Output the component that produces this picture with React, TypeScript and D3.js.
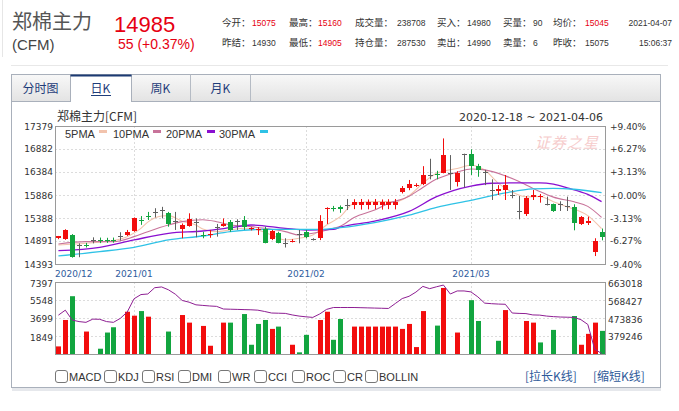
import React from 'react';
import * as d3 from 'd3';

const W = 679;
const H = 411;

// ---------- data ----------
const monthLabels = ['2020/12', '2021/01', '2021/02', '2021/03'];
const monthIndex = [0, 11, 36, 60];

const opens = [14950, 14930, 15020, 14800, 14810, 14910, 14920, 14920, 14915, 14995,
  15020, 15110, 15350, 15440, 15520, 15560, 15490, 15320, 15160, 15220,
  15300, 15025, 15020, 15200, 15220, 15300, 15330, 15340, 15140, 15140,
  15160, 14930, 15070, 14855, 14875, 15050, 15090, 14930, 14950, 15580,
  15610, 15630, 15670, 15675, 15670, 15680, 15672, 15678, 15670, 15676,
  15950, 16045, 16095, 16120, 16320, 16330, 16370, 16355, 16175, 16770,
  16770, 16520, 16390, 15994, 15970, 15994, 15886, 15540, 15468, 15845,
  15835, 15685, 15685, 15685, 15648, 15633, 15258, 15290, 14660, 15075];
const highs = [15000, 15145, 15040, 14840, 14850, 14970, 14965, 14960, 14965, 15080,
  15130, 15400, 15430, 15520, 15600, 15630, 15520, 15520, 15270, 15490,
  15380, 15090, 15130, 15260, 15380, 15345, 15360, 15430, 15190, 15190,
  15200, 15130, 15090, 14950, 14930, 15130, 15130, 14950, 15450, 15620,
  15650, 15660, 15800, 15795, 15800, 15790, 15800, 15790, 15795, 15800,
  16080, 16211, 16140, 16510, 16670, 16410, 17110, 16750, 16400, 16780,
  16875, 16560, 16430, 16226, 16100, 16319, 15994, 15864, 15864, 15994,
  15908, 15850, 15700, 15750, 15850, 15685, 15430, 15417, 14950, 15160];
const lows = [14930, 14915, 14530, 14540, 14750, 14840, 14845, 14850, 14855, 14900,
  15000, 15090, 15240, 15345, 15400, 15380, 15200, 15130, 14950, 15200,
  14970, 14950, 14960, 14985, 15200, 15090, 15130, 15130, 15120, 15020,
  14840, 14910, 14840, 14750, 14860, 14840, 14950, 14900, 14910, 15260,
  15530, 15500, 15560, 15580, 15570, 15575, 15580, 15570, 15580, 15575,
  15920, 15990, 16060, 16100, 16225, 16225, 16355, 15995, 16070, 16050,
  16320, 16280, 16100, 15778, 15886, 15778, 15815, 15360, 15432, 15778,
  15720, 15660, 15520, 15540, 15540, 15122, 15237, 15237, 14565, 14905];
const closes = [14990, 15130, 14550, 14800, 14790, 14910, 14905, 14905, 14900, 14995,
  15090, 15380, 15330, 15420, 15520, 15560, 15260, 15320, 15240, 15360,
  15300, 15010, 15045, 15200, 15250, 15130, 15330, 15200, 15165, 15160,
  14855, 15110, 14855, 14855, 14900, 15050, 14970, 14930, 15330, 15600,
  15590, 15580, 15670, 15740, 15742, 15738, 15745, 15740, 15742, 15740,
  16030, 16118, 16110, 16320, 16320, 16310, 16750, 16355, 16370, 16770,
  16520, 16430, 16390, 15994, 16010, 16100, 15886, 15540, 15817, 15880,
  15865, 15685, 15547, 15685, 15648, 15274, 15417, 15320, 14880, 14985];

const volumes = [780, 3495, 5938, 0, 2307, 0, 543, 2205, 2748, 0,
  4343, 3936, 4411, 3834, 0, 0, 2307, 0, 4004, 3223,
  0, 2884, 848, 0, 3223, 3223, 0, 4105, 950, 3088,
  3495, 2579, 2816, 0, 950, 170, 1968, 0, 3495, 4343,
  1459, 3597, 0, 2816, 2816, 2816, 2816, 2816, 2816, 2816,
  2579, 3088, 712, 4411, 0, 2918, 6786, 0, 2205, 0,
  5531, 3393, 0, 0, 1357, 4513, 0, 0, 3393, 3223,
  1188, 0, 2477, 0, 0, 3902, 950, 2070, 3223, 2375];
// 1 = rising day (red bar), 0 = falling day (green bar)
const volumeUp = [1, 1, 0, 0, 1, 0, 0, 0, 0, 0,
  1, 1, 0, 1, 0, 0, 0, 0, 1, 1,
  0, 1, 1, 0, 1, 0, 0, 0, 0, 0,
  0, 1, 0, 0, 1, 0, 0, 0, 1, 1,
  0, 0, 0, 1, 1, 1, 1, 1, 1, 1,
  1, 1, 1, 1, 0, 0, 1, 0, 1, 0,
  0, 0, 0, 0, 0, 1, 0, 0, 1, 1,
  0, 0, 0, 0, 0, 0, 1, 1, 1, 0];
const openInterest = [489000, 515000, 463000, 455000, 451000, 468000, 467000, 455000, 451000, 472000,
  505000, 575000, 597000, 600000, 633000, 637000, 622000, 599000, 566000, 557000,
  543000, 540000, 537000, 535000, 521000, 520000, 519000, 518000, 517000, 515000,
  508000, 500000, 499000, 498000, 490000, 484000, 480000, 477000, 495000, 519000,
  529000, 529000, 529000, 529000, 528000, 527000, 526000, 525000, 524000, 550000,
  576000, 588000, 610000, 640000, 628000, 638000, 647000, 600000, 616000, 616000,
  611000, 585000, 552000, 549000, 547000, 546000, 500000, 498000, 497000, 490000,
  489000, 484000, 481000, 479000, 478000, 477000, 465000, 440000, 310000, 287530];

// moving averages read at knots: [candle index, value]
const ma5 = [[0, 14804], [4, 14841], [8, 14900], [10, 14985], [12, 15165], [13, 15300], [15, 15430], [16, 15440], [18, 15320], [20, 15237], [21, 15150], [23, 15093], [25, 15129], [27, 15165], [29, 15129], [31, 15021], [33, 14913], [35, 14949], [37, 15021], [39, 15237], [41, 15417], [43, 15706], [46, 15742], [49, 15742], [51, 15870], [53, 16140], [55, 16355], [58, 16460], [60, 16530], [62, 16427], [64, 16138], [66, 15950], [68, 15845], [70, 15855], [72, 15742], [74, 15630], [77, 15440], [79, 15160]];
const ma10 = [[0, 14826], [4, 14877], [8, 14877], [11, 14985], [13, 15093], [16, 15237], [18, 15309], [21, 15350], [23, 15309], [25, 15237], [28, 15201], [30, 15165], [33, 15093], [35, 15021], [37, 15057], [40, 15165], [41, 15210], [43, 15400], [46, 15562], [48, 15700], [51, 15860], [53, 16050], [55, 16230], [58, 16380], [60, 16450], [62, 16430], [65, 16300], [67, 16180], [70, 15960], [72, 15840], [75, 15740], [77, 15640], [79, 15400]];
const ma20 = [[0, 14682], [6, 14754], [11, 14913], [16, 15057], [21, 15107], [25, 15179], [28, 15237], [33, 15165], [36, 15129], [40, 15143], [41, 15190], [46, 15320], [51, 15530], [55, 15850], [60, 16080], [63, 16140], [66, 16150], [70, 16150], [72, 16120], [74, 16040], [77, 15900], [79, 15742]];
const ma30 = [[0, 14567], [6, 14660], [11, 14754], [16, 14913], [21, 14999], [25, 15093], [30, 15143], [35, 15143], [38, 15143], [41, 15180], [46, 15290], [51, 15450], [55, 15620], [60, 15770], [65, 15930], [69, 16020], [72, 16030], [75, 16010], [79, 15936]];

const maNames = ['5PMA', '10PMA', '20PMA', '30PMA'];

const priceTicks = [17379, 16882, 16384, 15886, 15388, 14891, 14393];
const pctTicks = ['+9.40%', '+6.27%', '+3.13%', '+0.00%', '-3.13%', '-6.27%', '-9.40%'];
const volTicks = [7397, 5548, 3699, 1849];
const oiTicks = [663018, 568427, 473836, 379246];
const indicatorNames = ['MACD', 'KDJ', 'RSI', 'DMI', 'WR', 'CCI', 'ROC', 'CR', 'BOLLIN'];

// ---------- styling ----------
const RED = '#f20d0d';
const GREEN = '#12a53f';
const GRAY = '#606060';
const HRED = '#e60012';
const maColors = ['#f2c3ad', '#c8739a', '#8a0fd0', '#2fc2e6'];
const NUM = 'DejaVu Sans, Verdana, sans-serif';
const CJK = '"Noto Sans CJK SC", sans-serif';
const ARIAL = '"Liberation Sans", Arial, sans-serif';

const PL = 55, PR = 605, PT = 126, PB = 264;
const VT = 282, VB = 354;

export default function App() {
  const n = opens.length;
  const x = d3.scaleBand<number>().domain(d3.range(n)).range([PL, PR]);
  const cx = (i: number) => Math.round((x(i) as number) + x.bandwidth() / 2);
  const xi = d3.scaleLinear().domain([0, n - 1]).range([(x(0) as number) + x.bandwidth() / 2, (x(n - 1) as number) + x.bandwidth() / 2]);
  const y = d3.scaleLinear().domain([14393, 17379]).range([PB, PT]);
  const yv = d3.scaleLinear().domain([0, 7397]).range([VB, VT]);
  const yoi = d3.scaleLinear().domain([284655, 663018]).range([VB, VT]);

  const maLine = d3.line<number[]>().x(d => xi(d[0])).y(d => y(d[1])).curve(d3.curveMonotoneX);
  const oiLine = d3.line<number>().x((d, i) => xi(i)).y(d => yoi(d));

  const mas = [ma5, ma10, ma20, ma30];

  const cbX = [55, 104, 142, 178, 218, 254, 292, 333, 365];

  return (
    <svg width={W} height={H} style={{ position: 'absolute', left: 0, top: 0, background: '#fff' }}>
      <defs>
        <linearGradient id="tabbg" x1="0" y1="0" x2="0" y2="1">
          <stop offset="0" stopColor="#f8f8f8" />
          <stop offset="1" stopColor="#e3e3e3" />
        </linearGradient>
        <clipPath id="pclip"><rect x={PL} y={PT} width={PR - PL} height={PB - PT} /></clipPath>
        <clipPath id="vclip"><rect x={PL} y={VT} width={PR - PL} height={VB - VT} /></clipPath>
      </defs>

      {/* header */}
      <line x1={2.5} y1={0} x2={2.5} y2={57} stroke="#e6e6e6" />
      <text x={12} y={29} fontFamily={CJK} fontSize={20} fill="#555">郑棉主力</text>
      <text x={12} y={50} fontFamily={ARIAL} fontSize={15} fill="#444">(CFM)</text>
      <text x={114} y={32} fontFamily={ARIAL} fontSize={22} fill={HRED}>14985</text>
      <text x={118} y={49} fontFamily={ARIAL} fontSize={14} fill={HRED}>55 (+0.37%)</text>
      <g fontFamily={CJK} fontSize={9.5} fill="#333">
        <text x={222} y={26}>今开：</text>
        <text x={289} y={26}>最高：</text>
        <text x={355} y={26}>成交量：</text>
        <text x={437} y={26}>买入：</text>
        <text x={503} y={26}>买量：</text>
        <text x={553} y={26}>均价：</text>
        <text x={222} y={46}>昨结：</text>
        <text x={289} y={46}>最低：</text>
        <text x={355} y={46}>持仓量：</text>
        <text x={437} y={46}>卖出：</text>
        <text x={503} y={46}>卖量：</text>
        <text x={553} y={46}>昨收：</text>
      </g>
      <g fontFamily={ARIAL} fontSize={8.5} fill="#333">
        <text x={252} y={26} fill={HRED}>15075</text>
        <text x={318} y={26} fill={HRED}>15160</text>
        <text x={397} y={26}>238708</text>
        <text x={467} y={26}>14980</text>
        <text x={533} y={26}>90</text>
        <text x={585} y={26} fill={HRED}>15045</text>
        <text x={672} y={26} textAnchor="end">2021-04-07</text>
        <text x={252} y={46}>14930</text>
        <text x={318} y={46} fill={HRED}>14905</text>
        <text x={397} y={46}>287530</text>
        <text x={467} y={46}>14990</text>
        <text x={533} y={46}>6</text>
        <text x={585} y={46}>15075</text>
        <text x={672} y={46} textAnchor="end">15:06:37</text>
      </g>
      <line x1={11} y1={65.5} x2={668} y2={65.5} stroke="#e8e8e8" />

      {/* tabs */}
      <rect x={11.5} y={74.5} width={649} height={27} fill="url(#tabbg)" stroke="#a9b0bb" />
      <rect x={70.5} y={74.5} width={61} height={27} fill="#fff" stroke="#a9b0bb" />
      <line x1={70.5} y1={75.5} x2={131.5} y2={75.5} stroke="#1c3a73" strokeWidth={2} />
      {[190.5, 250.5].map(v => <line key={v} x1={v} y1={74.5} x2={v} y2={101.5} stroke="#b5bbc4" />)}
      <g fontFamily={CJK} fontSize={12} fill="#1f3d7a" textAnchor="middle">
        <text x={40.5} y={93}>分时图</text>
        <text x={100.5} y={93}>日K</text>
        <text x={160.5} y={93}>周K</text>
        <text x={220.5} y={93}>月K</text>
      </g>
      <line x1={91} y1={95.5} x2={111} y2={95.5} stroke="#1f3d7a" />

      {/* panel */}
      <rect x={11.5} y={101.5} width={649} height={286} fill="#fff" stroke="#a9b0bb" />
      <line x1={71} y1={101.5} x2={131} y2={101.5} stroke="#fff" />
      <rect x={12} y={388} width={649} height={3} fill="#e6e8ec" />

      <text x={57} y={121} fontFamily={CJK} fontSize={12} fill="#333">郑棉主力[CFM]</text>
      <text x={603} y={121} fontFamily={NUM} fontSize={11} fill="#333" textAnchor="end">2020-12-18 ~ 2021-04-06</text>

      {/* price grid */}
      <g stroke="#dcdcdc" strokeDasharray="2,2">
        {priceTicks.slice(1, -1).map(t => <line key={t} x1={PL} x2={PR} y1={Math.round(y(t)) + 0.5} y2={Math.round(y(t)) + 0.5} />)}
        {monthIndex.slice(1).map(i => <line key={'v' + i} x1={cx(i) + 0.5} x2={cx(i) + 0.5} y1={PT} y2={PB} />)}
        {volTicks.slice(1).map(t => <line key={'g' + t} x1={PL} x2={PR} y1={Math.round(yv(t)) + 0.5} y2={Math.round(yv(t)) + 0.5} />)}
        {monthIndex.slice(1).map(i => <line key={'vv' + i} x1={cx(i) + 0.5} x2={cx(i) + 0.5} y1={VT} y2={VB} />)}
      </g>

      {/* watermark */}
      <text x={535} y={148} fontFamily={CJK} fontSize={15} fontStyle="italic" fill="#f6cccc" letterSpacing={1}>证券之星</text>

      {/* axis labels */}
      <g fontFamily={NUM} fontSize={9} fill="#333">
        {priceTicks.map(t => <text key={t} x={53} y={y(t) + 3.5} textAnchor="end">{t}</text>)}
        {pctTicks.map((t, k) => <text key={t} x={610} y={y(priceTicks[k]) + 3.5}>{t}</text>)}
        {volTicks.map(t => <text key={t} x={53} y={yv(t) + 4.5} textAnchor="end">{t}</text>)}
        {oiTicks.map(t => <text key={t} x={608} y={yoi(t) + 4.5}>{t}</text>)}
      </g>
      <g fontFamily={NUM} fontSize={9} fill="#2f5d9e">
        {monthLabels.map((m, k) => (
          <text key={m} x={k === 0 ? PL : cx(monthIndex[k])} y={277} textAnchor={k === 0 ? 'start' : 'middle'}>{m}</text>
        ))}
      </g>

      {/* MA lines */}
      <g clipPath="url(#pclip)" fill="none">
        {mas.map((m, k) => <path key={k} d={maLine(m) as string} stroke={maColors[k]} strokeWidth={k >= 2 ? 1.3 : 1.1} />)}
      </g>

      {/* candles */}
      <g>
        {opens.map((o, i) => {
          const c = closes[i];
          const col = c > o ? RED : c < o ? GREEN : GRAY;
          const xc = cx(i);
          const top = Math.round(y(Math.max(o, c)));
          const bot = Math.round(y(Math.min(o, c)));
          return (
            <g key={i}>
              <line x1={xc + 0.5} x2={xc + 0.5} y1={y(highs[i])} y2={y(lows[i])} stroke={col} />
              {c === o
                ? <line x1={xc - 2} x2={xc + 3} y1={top + 0.5} y2={top + 0.5} stroke={col} />
                : <rect x={xc - 2} y={top} width={5} height={Math.max(1, bot - top)} fill={col} />}
            </g>
          );
        })}
      </g>

      {/* legend */}
      <g fontFamily={ARIAL} fontSize={11} fill="#333">
        {maNames.map((nm, k) => {
          const lx = [65, 113, 166, 219][k];
          const sx = [99, 153, 207, 260][k];
          return (
            <g key={nm}>
              <text x={lx} y={138}>{nm}</text>
              <rect x={sx} y={130} width={8} height={3} fill={maColors[k]} />
            </g>
          );
        })}
      </g>

      {/* volume */}
      <g>
        {volumes.map((v, i) => v > 0 ? (
          <rect key={i} x={cx(i) - 2} y={yv(v)} width={5} height={VB - yv(v)} fill={volumeUp[i] ? RED : GREEN} />
        ) : null)}
      </g>
      <g clipPath="url(#vclip)">
        <path d={oiLine(openInterest) as string} fill="none" stroke="#8e1f93" strokeWidth={1} />
      </g>

      {/* frames */}
      <rect x={PL + 0.5} y={PT + 0.5} width={PR - PL} height={PB - PT} fill="none" stroke="#9a9a9a" />
      <rect x={PL + 0.5} y={VT + 0.5} width={PR - PL} height={VB - VT} fill="none" stroke="#9a9a9a" />

      {/* indicator checkboxes */}
      <g fontFamily={ARIAL} fontSize={11} fill="#333">
        {indicatorNames.map((nm, k) => (
          <g key={nm}>
            <rect x={cbX[k] + 0.5} y={370.5} width={12} height={12} rx={2.5} fill="#fff" stroke="#777" />
            <text x={cbX[k] + 14} y={381}>{nm}</text>
          </g>
        ))}
      </g>
      <g fontFamily={CJK} fontSize={12} fill="#2e5a9a">
        <text x={525} y={381}>[拉长K线]</text>
        <text x={593} y={381}>[缩短K线]</text>
      </g>
    </svg>
  );
}
